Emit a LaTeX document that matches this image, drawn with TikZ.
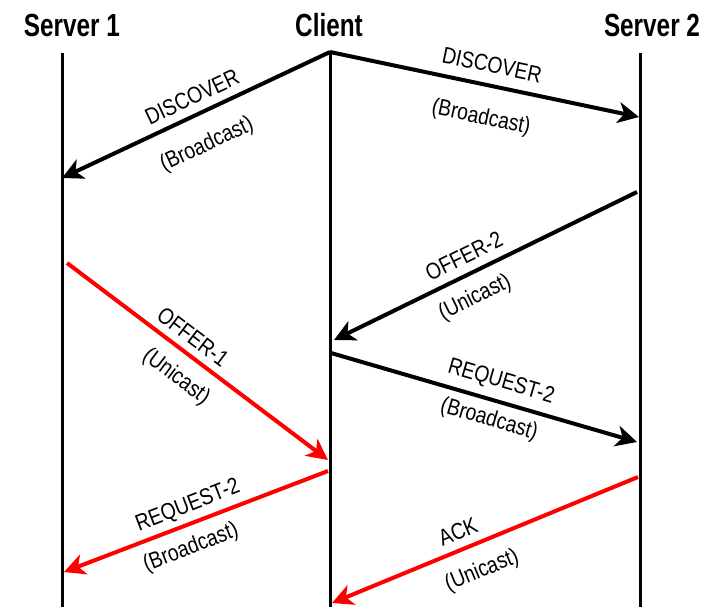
\documentclass[tikz,border=0pt]{standalone}
\usepackage{fontspec}
\setmainfont{Liberation Sans}
\newfontfamily\headfont[FakeStretch=0.76]{Liberation Sans}
\newfontfamily\msgfont[FakeStretch=0.84]{Liberation Sans}
\usetikzlibrary{arrows.meta}

\definecolor{signalred}{RGB}{255,0,0}

\tikzset{
  lifeline/.style={line width=3pt, line cap=butt},
  head/.style={inner sep=0pt, font=\headfont\bfseries\fontsize{32}{36}\selectfont},
  msg/.style={line width=4pt, -{Stealth[length=21pt,width=21pt,inset=6pt]}},
  blackmsg/.style={msg, draw=black},
  redmsg/.style={msg, draw=signalred, fill=signalred},
  lbl/.style={inner sep=0pt, font=\msgfont\fontsize{23}{26}\selectfont}
}

\begin{document}
\begin{tikzpicture}[x=1pt, y=-1pt]
  \useasboundingbox (0,0) rectangle (706,607);

  % column headings
  \node[head] (h1) at (72,25) {Server 1};
  \node[head] (hc) at (329,25) {Client};
  \node[head] (h2) at (652,25) {Server 2};

  % lifelines
  \coordinate (s1top) at (62,53);
  \coordinate (s1bot) at (62,607);
  \coordinate (ctop)  at (330,51);
  \coordinate (cbot)  at (330,607);
  \coordinate (s2top) at (640,53);
  \coordinate (s2bot) at (640,607);
  \draw[lifeline] (s1top) -- (s1bot);
  \draw[lifeline] (ctop) -- (cbot);
  \draw[lifeline] (s2top) -- (s2bot);

  % message end points
  \coordinate (cdisc) at (330,52);
  \coordinate (s1disc) at (62,178);
  \coordinate (s2disc) at (639,117);
  \coordinate (s2off) at (637,192);
  \coordinate (coff) at (334,340);
  \coordinate (creq) at (331,353);
  \coordinate (s2req) at (637,442);
  \coordinate (s1off) at (67,263);
  \coordinate (coffa) at (328,460);
  \coordinate (creqa) at (328,471);
  \coordinate (s1req) at (64,572);
  \coordinate (s2ack) at (638,477);
  \coordinate (cack) at (332,603);

  % messages
  \draw[blackmsg] (cdisc) -- (s1disc);
  \draw[blackmsg] (cdisc) -- (s2disc);
  \draw[blackmsg] (s2off) -- (coff);
  \draw[blackmsg] (creq) -- (s2req);
  \draw[redmsg] (s1off) -- (coffa);
  \draw[redmsg] (creqa) -- (s1req);
  \draw[redmsg] (s2ack) -- (cack);

  % message labels
  \node[lbl, rotate=25.3] (l1a) at (192,97) {DISCOVER};
  \node[lbl, rotate=25.3] (l1b) at (207,145) {(Broadcast)};
  \node[lbl, rotate=-11.9] (l2a) at (492,65) {DISCOVER};
  \node[lbl, rotate=-11.9] (l2b) at (481,118) {(Broadcast)};
  \node[lbl, rotate=26.3] (l3a) at (464,256) {OFFER-2};
  \node[lbl, rotate=26.3] (l3b) at (475,298) {(Unicast)};
  \node[lbl, rotate=-16.4] (l4a) at (501,382) {REQUEST-2};
  \node[lbl, rotate=-16.4] (l4b) at (489,420) {(Broadcast)};
  \node[lbl, rotate=-37.2] (l5a) at (193,337) {OFFER-1};
  \node[lbl, rotate=-37.2] (l5b) at (176,377) {(Unicast)};
  \node[lbl, rotate=21.1] (l6a) at (188,506) {REQUEST-2};
  \node[lbl, rotate=21.1] (l6b) at (191,548) {(Broadcast)};
  \node[lbl, rotate=22.5] (l7a) at (458,532) {ACK};
  \node[lbl, rotate=22.5] (l7b) at (482,571) {(Unicast)};
\end{tikzpicture}
\end{document}
